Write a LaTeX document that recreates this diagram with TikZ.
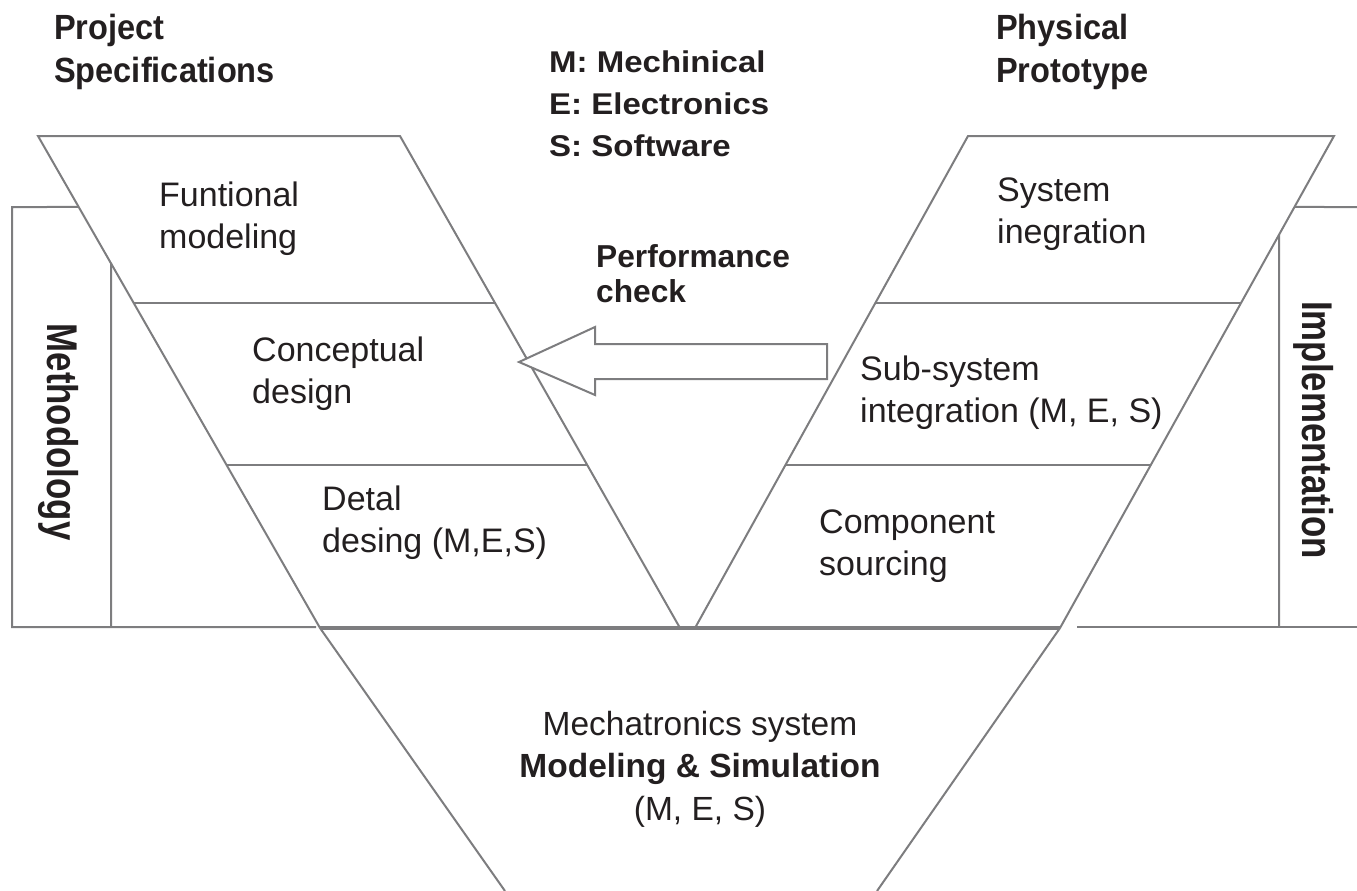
\documentclass[tikz,border=0pt]{standalone}
\usepackage{fontspec}
\usetikzlibrary{calc}
\setmainfont{Liberation Sans}
\newfontfamily\headfont{Liberation Sans}[FakeStretch=0.93]
\newfontfamily\keyfont{Liberation Sans}[FakeStretch=1.1]
\newfontfamily\sidefont{Liberation Sans}[FakeStretch=0.81]
\definecolor{edge}{HTML}{7D7D7F}
\definecolor{ink}{HTML}{231F20}
% multi-line text blocks whose baseline is the first line's baseline
\newcommand\leftstack[1]{\vtop{\halign{##\hfil\cr#1\crcr}}}
\newcommand\midstack[1]{\vtop{\halign{\hfil##\hfil\cr#1\crcr}}}
\tikzset{
  edgeline/.style={draw=edge, line width=2pt},
  phasetext/.style={inner sep=0pt, text=ink, font=\fontsize{34}{42}\selectfont},
  headtext/.style={inner sep=0pt, text=ink, font=\headfont\bfseries\fontsize{35}{43}\selectfont},
  keytext/.style={inner sep=0pt, text=ink, font=\keyfont\bfseries\fontsize{30}{42}\selectfont},
  checktext/.style={inner sep=0pt, text=ink, font=\bfseries\fontsize{31.7}{35}\selectfont},
  sidetext/.style={inner sep=0pt, text=ink, rotate=-90, anchor=base, font=\sidefont\bfseries\fontsize{43}{50}\selectfont},
}
\begin{document}
\begin{tikzpicture}[x=1pt, y=-1pt]
\useasboundingbox (0,0) rectangle (1357,891);

% corners of the two arms of the V and the lower funnel
\coordinate (LT1) at (38,136);
\coordinate (LT2) at (400,136);
\coordinate (LB2) at (680,628);
\coordinate (LB1) at (320,628);
\coordinate (RT1) at (968,136);
\coordinate (RT2) at (1334,136);
\coordinate (RB2) at (1060,628);
\coordinate (RB1) at (695,628);
\coordinate (FL) at (505,891);
\coordinate (FR) at (877,891);

% side bars behind the arms
\draw[edgeline] ($(LT1)!0.1443!(LB1)$) -- (12,207) -- (12,627) -- (316,627);
\draw[edgeline] ($(LT1)!0.2589!(LB1)$) -- (111,627);
\draw[edgeline] ($(RT2)!0.1443!(RB2)$) -- (1357,207);
\draw[edgeline] (1077,627) -- (1357,627);
\draw[edgeline] ($(RT2)!0.2007!(RB2)$) -- (1279,627);

% left arm
\draw[edgeline] (LB2) -- (LT2) -- (LT1) -- (LB1) -- (FL);
\draw[edgeline] ($(LT1)!0.3394!(LB1)$) -- ($(LT2)!0.3394!(LB2)$);
\draw[edgeline] ($(LT1)!0.6687!(LB1)$) -- ($(LT2)!0.6687!(LB2)$);

% right arm
\draw[edgeline] (RB1) -- (RT1) -- (RT2) -- (RB2) -- (FR);
\draw[edgeline] ($(RT1)!0.3394!(RB1)$) -- ($(RT2)!0.3394!(RB2)$);
\draw[edgeline] ($(RT1)!0.6687!(RB1)$) -- ($(RT2)!0.6687!(RB2)$);

% top of the modelling funnel
\draw[edgeline, line width=4.5pt] (LB1) -- (RB2);

% feedback arrow
\draw[edgeline, fill=white] (519,362) -- (595,327) -- (595,344) -- (827,344)
  -- (827,379) -- (595,379) -- (595,395) -- cycle;

% headings and legend
\node[headtext, anchor=base west] (spec) at (54,40) {\leftstack{Project\cr Specifications}};
\node[headtext, anchor=base west] (proto) at (996,40) {\leftstack{Physical\cr Prototype}};
\node[keytext, anchor=base west] (legend) at (549,73) {\leftstack{M: Mechinical\cr E: Electronics\cr S: Software}};
\node[checktext, anchor=base west] (check) at (596,267) {\leftstack{Performance\cr check}};

% phases
\node[phasetext, anchor=base west] (funtional) at (159,206) {\leftstack{Funtional\cr modeling}};
\node[phasetext, anchor=base west] (concept) at (252,361) {\leftstack{Conceptual\cr design}};
\node[phasetext, anchor=base west] (detail) at (322,510) {\leftstack{Detal\cr desing (M,E,S)}};
\node[phasetext, anchor=base west] (sysint) at (997,201) {\leftstack{System\cr inegration}};
\node[phasetext, anchor=base west] (subint) at (860,380) {\leftstack{Sub-system\cr integration (M, E, S)}};
\node[phasetext, anchor=base west] (sourcing) at (819,533) {\leftstack{Component\cr sourcing}};
\node[phasetext, anchor=base, font=\fontsize{33.5}{42.5}\selectfont] (model) at (700,735)
  {\midstack{Mechatronics system\cr \textbf{Modeling \& Simulation}\cr (M, E, S)}};

% side bar captions
\node[sidetext] (method) at (47,432) {Methodology};
\node[sidetext] (impl) at (1302,430) {Implementation};
\end{tikzpicture}
\end{document}
